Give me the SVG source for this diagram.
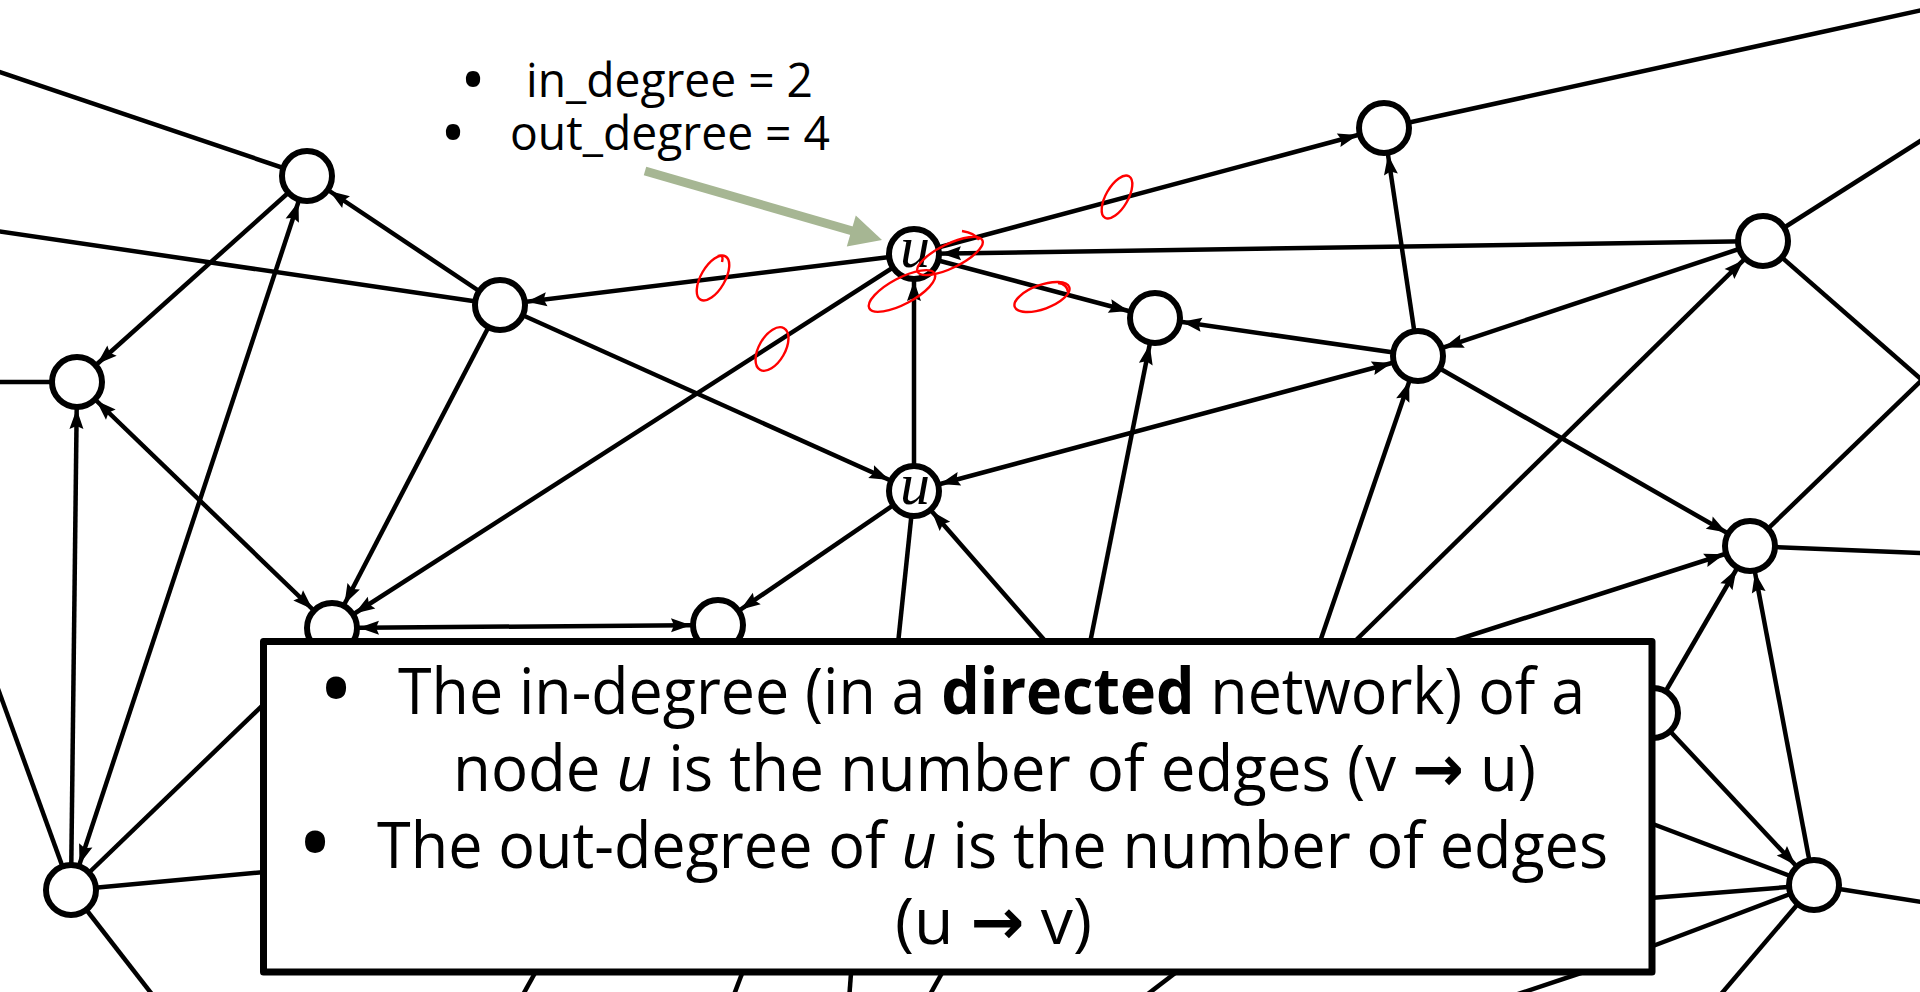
<svg xmlns="http://www.w3.org/2000/svg" width="1920" height="992" viewBox="0 0 1920 992">
<style>
.e{stroke:#000;stroke-width:4.5;fill:none}
.d{marker-end:url(#ah)}
.b{marker-start:url(#ah);marker-end:url(#ah)}
.n{fill:#fff;stroke:#000;stroke-width:6}
.ul{font-family:"Liberation Serif","DejaVu Serif",serif;font-style:italic;font-size:60px;text-anchor:middle;fill:#000}
.t{font-family:"Open Sans","Noto Sans","Liberation Sans",sans-serif;fill:#000}
.ar{font-family:"DejaVu Sans",sans-serif;font-weight:bold}
.red{fill:none;stroke:#f00;stroke-width:2.4}
</style>
<defs>
<marker id="ah" markerUnits="userSpaceOnUse" markerWidth="50" markerHeight="15" refX="47" refY="7" orient="auto-start-reverse" overflow="visible">
<path d="M0,0 L20,7 L0,14 L3,7 z" fill="#000"/>
</marker>
</defs>
<rect width="1920" height="992" fill="#fff"/>
<g id="connectors">
<path class="e" d="M-3,71 L307,176"/>
<path class="e" d="M-3,231 L500,305"/>
<path class="e" d="M-3,382 L77,382"/>
<path class="e" d="M1384,128 L1922,10"/>
<path class="e" d="M1763,241 L1922,140"/>
<path class="e" d="M1763,241 L1922,380"/>
<path class="e" d="M1922,380 L1750,546"/>
<path class="e" d="M1750,546 L1922,553"/>
<path class="e" d="M1814,885 L1922,902"/>
<path class="e" d="M1814,885 L1716,1000"/>
<path class="e" d="M914,491 L890,720"/>
<path class="e" d="M71,890 L-3,686"/>
<path class="e" d="M71,890 L158,1002"/>
<path class="e" d="M71,890 L330,866"/>
<path class="e" d="M71,890 L320,650"/>
<path class="e" d="M1600,804 L1814,885"/>
<path class="e" d="M1600,902 L1814,885"/>
<path class="e" d="M1600,966 L1814,885"/>
<path class="e" d="M540,964 L520,1000"/>
<path class="e" d="M746,963 L732,1000"/>
<path class="e" d="M852,960 L849,1000"/>
<path class="e" d="M947,964 L927,1000"/>
<path class="e" d="M1187,964 L1140,1000"/>
<path class="e" d="M1608,964 L1500,1000"/>
<path class="e d" d="M307,176 L77,382"/>
<path class="e d" d="M500,305 L307,176"/>
<path class="e d" d="M500,305 L332,628"/>
<path class="e d" d="M914,254 L500,305"/>
<path class="e d" d="M500,305 L914,491"/>
<path class="e d" d="M914,254 L332,628"/>
<path class="e d" d="M914,491 L914,254"/>
<path class="e d" d="M914,254 L1384,128"/>
<path class="e d" d="M1763,241 L914,254"/>
<path class="e d" d="M914,254 L1155,318"/>
<path class="e d" d="M1418,356 L1155,318"/>
<path class="e d" d="M1418,356 L1384,128"/>
<path class="e d" d="M1763,241 L1418,356"/>
<path class="e d" d="M1295,700 L1763,241"/>
<path class="e d" d="M1300,700 L1418,356"/>
<path class="e d" d="M1082,683 L1155,318"/>
<path class="e d" d="M1082,683 L914,491"/>
<path class="e d" d="M914,491 L718,625"/>
<path class="e b" d="M1418,356 L914,491"/>
<path class="e d" d="M1418,356 L1750,546"/>
<path class="e d" d="M1400,658 L1750,546"/>
<path class="e d" d="M1653,713 L1750,546"/>
<path class="e d" d="M1814,885 L1750,546"/>
<path class="e d" d="M1653,713 L1814,885"/>
<path class="e d" d="M71,890 L77,382"/>
<path class="e b" d="M77,382 L332,628"/>
<path class="e b" d="M307,176 L71,890"/>
<path class="e b" d="M332,628 L718,625"/>
</g>
<g id="node-A"><circle class="n" cx="307" cy="176" r="25"/></g>
<g id="node-B"><circle class="n" cx="77" cy="382" r="25"/></g>
<g id="node-C"><circle class="n" cx="500" cy="305" r="25"/></g>
<g id="node-u"><circle class="n" cx="914" cy="254" r="25"/><text class="ul" x="915" y="267">u</text></g>
<g id="node-D"><circle class="n" cx="1384" cy="128" r="25"/></g>
<g id="node-E"><circle class="n" cx="1155" cy="318" r="25"/></g>
<g id="node-F"><circle class="n" cx="1763" cy="241" r="25"/></g>
<g id="node-G"><circle class="n" cx="1418" cy="356" r="25"/></g>
<g id="node-u2"><circle class="n" cx="914" cy="491" r="25"/><text class="ul" x="915" y="504">u</text></g>
<g id="node-H"><circle class="n" cx="1750" cy="546" r="25"/></g>
<g id="node-I"><circle class="n" cx="332" cy="628" r="25"/></g>
<g id="node-J"><circle class="n" cx="718" cy="625" r="25"/></g>
<g id="node-K"><circle class="n" cx="1653" cy="713" r="25"/></g>
<g id="node-L"><circle class="n" cx="71" cy="890" r="25"/></g>
<g id="node-M"><circle class="n" cx="1814" cy="885" r="25"/></g>
<g id="definition-box">
<rect x="263.5" y="641.5" width="1388.5" height="330.5" fill="#fff" stroke="#000" stroke-width="7" stroke-linejoin="round"/>
<text class="t" font-size="96" x="336" y="723" text-anchor="middle">•</text>
<text class="t" font-size="64" x="398" y="714" textLength="1187" lengthAdjust="spacingAndGlyphs">The in-degree (in a <tspan font-weight="bold">directed</tspan> network) of a</text>
<text class="t" font-size="64" x="453" y="791" textLength="1083" lengthAdjust="spacingAndGlyphs">node <tspan font-style="italic">u</tspan> is the number of edges (v <tspan class="ar">→</tspan> u)</text>
<text class="t" font-size="96" x="315" y="877" text-anchor="middle">•</text>
<text class="t" font-size="64" x="377" y="868" textLength="1231" lengthAdjust="spacingAndGlyphs">The out-degree of <tspan font-style="italic">u</tspan> is the number of edges</text>
<text class="t" font-size="64" x="895" y="944" textLength="197" lengthAdjust="spacingAndGlyphs">(u <tspan class="ar">→</tspan> v)</text>
</g>
<g id="degree-label">
<text class="t" font-size="68" x="473" y="104" text-anchor="middle">•</text>
<text class="t" font-size="47" x="526" y="97" textLength="287" lengthAdjust="spacingAndGlyphs">in_degree = 2</text>
<text class="t" font-size="68" x="453" y="157" text-anchor="middle">•</text>
<text class="t" font-size="47" x="510" y="150" textLength="320" lengthAdjust="spacingAndGlyphs">out_degree = 4</text>
</g>
<g id="pointer">
<line x1="645" y1="171" x2="856" y2="232" stroke="#a6b693" stroke-width="9"/>
<polygon points="882,240 855.8,215.6 846.8,246.4" fill="#a6b693"/>
</g>
<g id="annotations">
<ellipse class="red" cx="713" cy="278" rx="25" ry="12" transform="rotate(-60 713 278)"/>
<path class="red" d="M718,256 Q724,254 722,262"/>
<ellipse class="red" cx="772" cy="349" rx="24" ry="13" transform="rotate(-60 772 349)"/>
<ellipse class="red" cx="902" cy="291" rx="37" ry="13" transform="rotate(-28 902 291)"/>
<ellipse class="red" cx="950" cy="256" rx="36" ry="12" transform="rotate(-26 950 256)"/>
<path class="red" d="M962,231 Q975,233 979,240"/>
<ellipse class="red" cx="1042" cy="297" rx="29" ry="12" transform="rotate(-20 1042 297)"/>
<path class="red" d="M1058,283 Q1067,284 1068,292"/>
<ellipse class="red" cx="1117" cy="197" rx="24" ry="11" transform="rotate(-60 1117 197)"/>
</g>
</svg>
